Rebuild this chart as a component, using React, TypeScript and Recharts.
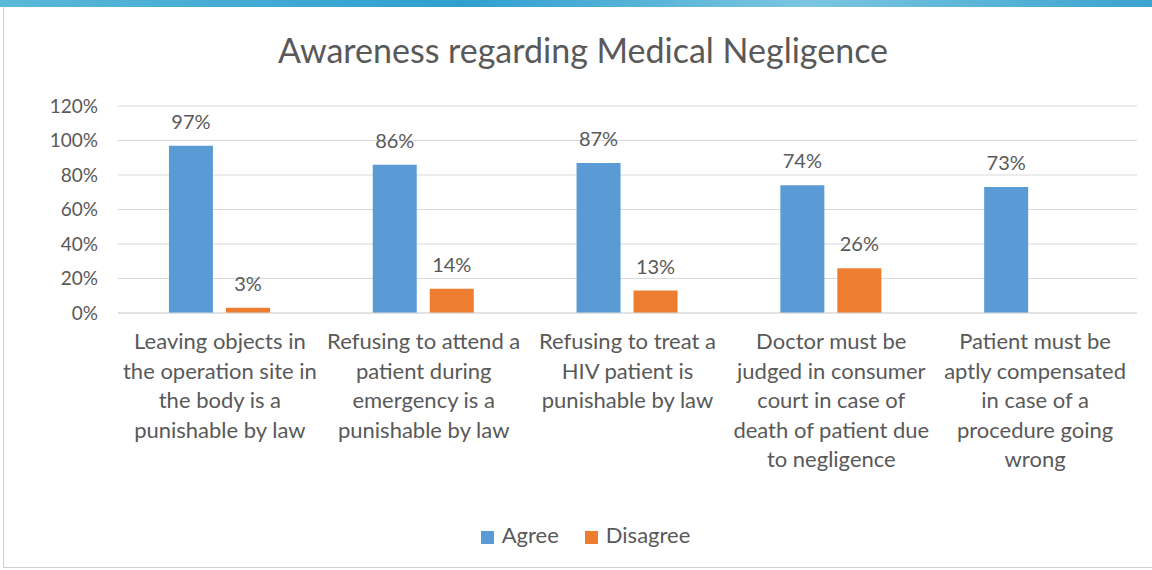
import React from 'react';
import { BarChart, Bar, XAxis, YAxis, CartesianGrid, Legend, LabelList } from 'recharts';

const categories: string[][] = [
  ['Leaving objects in', 'the operation site in', 'the body is a', 'punishable by law'],
  ['Refusing to attend a', 'patient during', 'emergency is a', 'punishable by law'],
  ['Refusing to treat a', 'HIV patient is', 'punishable by law'],
  ['Doctor must be', 'judged in consumer', 'court in case of', 'death of patient due', 'to negligence'],
  ['Patient must be', 'aptly compensated', 'in case of a', 'procedure going', 'wrong'],
];
const agree = [0.97, 0.86, 0.87, 0.74, 0.73];
const disagree: (number | null)[] = [0.03, 0.14, 0.13, 0.26, null];
const yTicks = [0, 0.2, 0.4, 0.6, 0.8, 1.0, 1.2];

const data = categories.map((lines, i) => ({
  name: String(i),
  Agree: agree[i],
  Disagree: disagree[i],
}));

const FONT = 'Lato, "Open Sans", sans-serif';
const TEXT = '#595959';
const pct = (v: any) => (v == null ? '' : `${Math.round(v * 100)}%`);

function CategoryTick({ x, y, payload }: any) {
  const lines = categories[Number(payload.value)] ?? [];
  return (
    <text x={x} y={y} textAnchor="middle" fill={TEXT} fontSize={22} fontFamily={FONT}>
      {lines.map((l, i) => (
        <tspan key={i} x={x} dy={i === 0 ? 28 : 29.5}>
          {l}
        </tspan>
      ))}
    </text>
  );
}

export default function App() {
  return (
    <div style={{ position: 'fixed', left: 0, top: 0, width: 1152, height: 570, background: '#fff', overflow: 'hidden' }}>
      <div
        style={{
          position: 'absolute', left: 0, top: 0, width: 1152, height: 7,
          background: 'linear-gradient(90deg, #5bb8d8 0%, #2f9fcf 40%, #7cc6e0 70%, #3aa3cf 100%)',
        }}
      />
      <div style={{ position: 'absolute', left: 3, top: 7, width: 1149, height: 560, borderLeft: '1px solid #d0d0d0', borderBottom: '1px solid #d0d0d0' }} />
      <div
        style={{
          position: 'absolute', left: 0, top: 29, width: 1166, textAlign: 'center',
          fontFamily: FONT, fontSize: 34, color: TEXT,
        }}
      >
        Awareness regarding Medical Negligence
      </div>
      <div style={{ position: 'absolute', left: 0, top: 0 }}>
        <BarChart
          width={1152}
          height={570}
          data={data}
          margin={{ top: 106, right: 15, bottom: 22, left: 0 }}
          barCategoryGap="25%"
          barGap={13}
        >
          <CartesianGrid vertical={false} stroke="#d9d9d9" />
          <XAxis
            dataKey="name"
            tick={<CategoryTick />}
            tickLine={false}
            axisLine={{ stroke: '#d9d9d9' }}
            height={208}
            interval={0}
          />
          <YAxis
            domain={[0, 1.2]}
            ticks={yTicks}
            tickFormatter={pct}
            tickLine={false}
            axisLine={false}
            width={118}
            tick={{ fill: TEXT, fontSize: 19, fontFamily: FONT, dx: -12 }}
          />
          <Legend
            verticalAlign="bottom"
            iconType="square"
            iconSize={13}
            wrapperStyle={{ fontFamily: FONT, fontSize: 22, left: 30 }}
            formatter={(v: string) => <span style={{ color: TEXT, marginLeft: 4, marginRight: 16 }}>{v}</span>}
          />
          <Bar dataKey="Agree" fill="#5B9BD5" isAnimationActive={false}>
            <LabelList dataKey="Agree" position="top" offset={17} formatter={pct} fill={TEXT} fontSize={20} fontFamily={FONT} />
          </Bar>
          <Bar dataKey="Disagree" fill="#ED7D31" isAnimationActive={false}>
            <LabelList dataKey="Disagree" position="top" offset={17} formatter={pct} fill={TEXT} fontSize={20} fontFamily={FONT} />
          </Bar>
        </BarChart>
      </div>
    </div>
  );
}
